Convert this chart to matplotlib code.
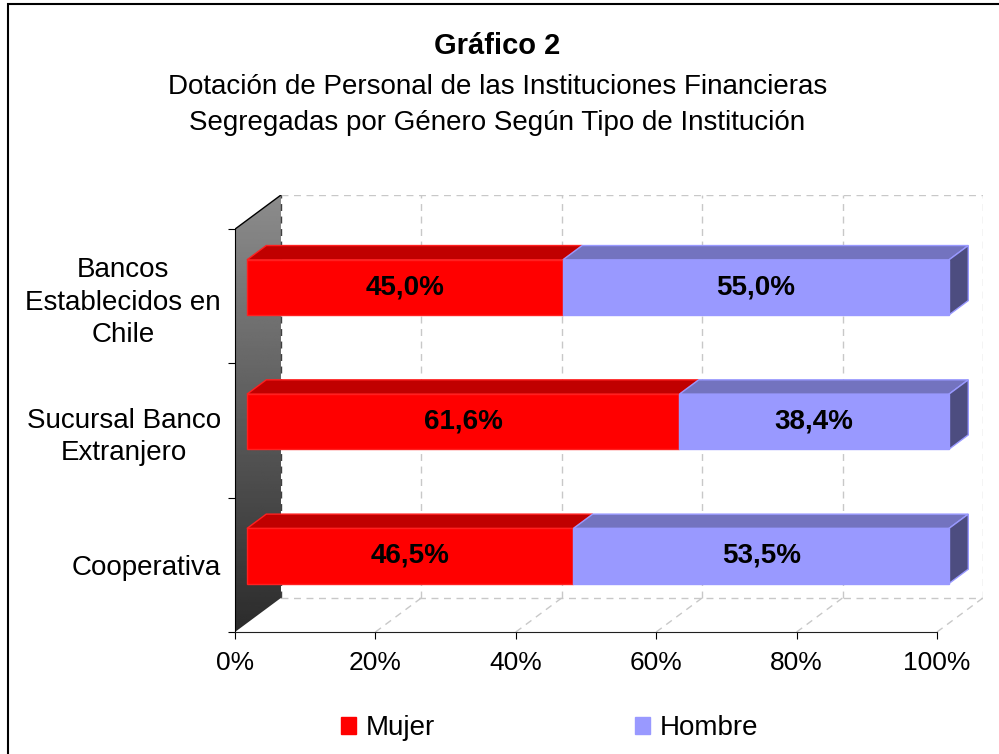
import matplotlib.pyplot as plt
import numpy as np
from matplotlib.patches import Polygon, Rectangle, Patch

plt.rcParams['font.family'] = ['Liberation Sans', 'DejaVu Sans']

# data (bottom to top)
categorias = ['Cooperativa', 'Sucursal Banco\nExtranjero', 'Bancos\nEstablecidos en\nChile']
mujer = [46.5, 61.6, 45.0]
hombre = [53.5, 38.4, 55.0]
series = ['Mujer', 'Hombre']
xticks = [0, 20, 40, 60, 80, 100]

# pseudo 3d settings
DX = 6.55     # depth shift in x (percent units)
DY = 0.254    # depth shift in y (category units)
z0, z1 = 0.26, 0.68
h = 0.41
front = ['#ff0000', '#9999ff']
top = ['#c00000', '#7373bf']
side = ['#c00000', '#4d4d80']
edge = ['#ff2020', '#9999ff']
grid_c = '#c8c8c8'

W, H = 999, 754
fig = plt.figure(figsize=(W / 100, H / 100), dpi=100)
ax = fig.add_axes([235 / W, 1 - 632 / H, 748 / W, 437 / H])
ax.set_xlim(0, 100 + DX)
ax.set_ylim(-0.5, 2.5 + DY)

# back wall grid + floor
for t in xticks:
    c = '#404040' if t == 0 else grid_c
    ax.plot([t + DX, t + DX], [-0.5 + DY, 2.5 + DY], color=c, lw=1, ls=(0, (5, 4)), zorder=1)
    if t > 0:
        ax.plot([t, t + DX], [-0.5, -0.5 + DY], color=grid_c, lw=1, ls=(0, (5, 4)), zorder=1)
ax.plot([DX, 100 + DX], [2.5 + DY, 2.5 + DY], color=grid_c, lw=1, ls=(0, (5, 4)), zorder=1)
ax.plot([DX, 100 + DX], [-0.5 + DY, -0.5 + DY], color=grid_c, lw=1, ls=(0, (5, 4)), zorder=1)

# left wall with gradient
wall = Polygon([(0, -0.5), (0, 2.5), (DX, 2.5 + DY), (DX, -0.5 + DY)],
               closed=True, facecolor='none', edgecolor='none')
ax.add_patch(wall)
grad = np.linspace(0, 1, 256).reshape(-1, 1)
im = ax.imshow(grad, extent=[0, DX, -0.5, 2.5 + DY], cmap='gray', vmin=-0.447, vmax=2.184,
               aspect='auto', origin='lower', zorder=0.5)
im.set_clip_path(wall)
ax.plot([0, DX], [2.5, 2.5 + DY], color='black', lw=1, zorder=2)

# bars
for i in range(len(categorias)):
    vals = [mujer[i], hombre[i]]
    left = 0
    for k, v in enumerate(vals):
        x0 = left + z0 * DX
        yb = i - h / 2 + z0 * DY
        yt = yb + h
        ddx = (z1 - z0) * DX
        ddy = (z1 - z0) * DY
        ax.add_patch(Polygon([(x0, yt), (x0 + v, yt), (x0 + v + ddx, yt + ddy), (x0 + ddx, yt + ddy)],
                             closed=True, facecolor=top[k], edgecolor=edge[k], lw=1, zorder=3))
        if k == len(vals) - 1:
            ax.add_patch(Polygon([(x0 + v, yb), (x0 + v, yt), (x0 + v + ddx, yt + ddy), (x0 + v + ddx, yb + ddy)],
                                 closed=True, facecolor=side[k], edgecolor=edge[k], lw=1, zorder=3))
        ax.barh(i + z0 * DY, v, left=x0, height=h, color=front[k], edgecolor=edge[k], lw=1, zorder=4)
        ax.text(x0 + v / 2, i + z0 * DY, f'{v:.1f}%'.replace('.', ','), ha='center', va='center',
                fontsize=20, fontweight='bold', zorder=5)
        left += v

# axes
for s in ['top', 'right']:
    ax.spines[s].set_visible(False)
ax.spines['bottom'].set_bounds(0, 100)
ax.spines['left'].set_bounds(-0.5, 2.5)
ax.spines['bottom'].set_color('#202020')
ax.set_xticks(xticks)
ax.set_xticklabels([f'{t}%' for t in xticks], fontsize=19)
ax.tick_params(axis='x', direction='out', length=5, pad=9)
ax.set_yticks([-0.5, 0.5, 1.5, 2.5])
ax.set_yticklabels([])
ax.tick_params(axis='y', direction='out', length=5)
ax.set_yticks(range(len(categorias)), minor=True)
ax.set_yticklabels(categorias, minor=True, fontsize=20, ha='right', multialignment='center',
                   linespacing=1.34)
ax.tick_params(axis='y', which='minor', length=0, pad=10)

# titles
fig.text(0.498, 1 - 46 / H, 'Gráfico 2', ha='center', va='center', fontsize=21, fontweight='bold')
fig.text(0.498, 1 - 105 / H,
         'Dotación de Personal de las Instituciones Financieras\nSegregadas por Género Según Tipo de Institución',
         ha='center', va='center', fontsize=20, linespacing=1.5)

# legend
handles = [Patch(facecolor=front[k], edgecolor=front[k]) for k in range(2)]
fig.legend(handles, series, loc='center', bbox_to_anchor=(0.55, 1 - 728 / H), ncol=2,
           frameon=False, fontsize=20, handlelength=0.55, handleheight=0.55,
           columnspacing=7.2, handletextpad=0.35)

# outer border
fig.add_artist(Rectangle((8 / W, -0.1), 1.5, 1 - 4 / H + 0.1, transform=fig.transFigure,
                         fill=False, edgecolor='black', lw=1.5))

fig.savefig('out.png', dpi=100)
